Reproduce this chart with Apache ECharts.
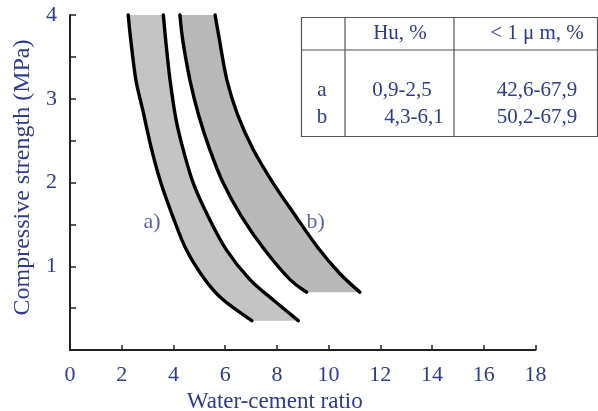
<!DOCTYPE html>
<html>
<head>
<meta charset="utf-8">
<script src="https://cdn.jsdelivr.net/npm/echarts@6/dist/echarts.min.js"></script>
<style>
html,body{margin:0;padding:0;background:#fff;}
#chart{width:598px;height:411px;}
</style>
</head>
<body>
<div id="chart"></div>
<script>
// ---- data ----
const xTicks = [0, 2, 4, 6, 8, 10, 12, 14, 16, 18];
const yTickLabels = ['1', '2', '3', '4'];
// band a) : left and right boundary curves, [water-cement ratio, strength MPa], top to bottom
const bandALeft  = [[2.25,4.0],[2.35,3.70],[2.55,3.22],[2.81,2.87],[3.16,2.39],[3.52,1.99],[3.98,1.59],[4.51,1.19],[5.22,0.84],[5.92,0.60],[7.03,0.35]];
const bandARight = [[3.61,4.0],[3.70,3.70],[3.87,3.22],[4.10,2.75],[4.38,2.39],[4.77,1.99],[5.35,1.59],[6.06,1.19],[6.96,0.84],[7.85,0.60],[8.83,0.35]];
// band b)
const bandBLeft  = [[4.25,4.0],[4.36,3.70],[4.64,3.22],[4.97,2.81],[5.41,2.39],[5.93,1.99],[6.64,1.59],[7.54,1.19],[8.51,0.84],[9.15,0.69]];
const bandBRight = [[5.61,4.0],[5.78,3.70],[6.07,3.22],[6.48,2.81],[7.09,2.39],[7.86,1.99],[8.70,1.61],[9.59,1.22],[10.44,0.91],[11.21,0.69]];
// band labels
const bandLabels = [['a)', 3.17, 1.53], ['b)', 9.5, 1.53]];
// inset table
const tableHeader = ['', 'Hu, %', '< 1 \u03bc m, %'];
const tableRows = [['a', '0,9-2,5', '42,6-67,9'], ['b', '4,3-6,1', '50,2-67,9']];

const NAVY = '#2e3b8e';
const FONT = '"Liberation Serif", "Times New Roman", serif';

function toPx(api, pts){ return pts.map(p => api.coord(p)); }
function smoothSeg(pts, withMove){
  let d = withMove ? ('M' + pts[0][0] + ' ' + pts[0][1]) : '';
  const n = pts.length;
  for (let i = 0; i < n - 1; i++) {
    const p0 = pts[Math.max(i - 1, 0)], p1 = pts[i], p2 = pts[i + 1], p3 = pts[Math.min(i + 2, n - 1)];
    const c1 = [p1[0] + (p2[0] - p0[0]) / 6, p1[1] + (p2[1] - p0[1]) / 6];
    const c2 = [p2[0] - (p3[0] - p1[0]) / 6, p2[1] - (p3[1] - p1[1]) / 6];
    d += ' C' + c1[0] + ' ' + c1[1] + ' ' + c2[0] + ' ' + c2[1] + ' ' + p2[0] + ' ' + p2[1];
  }
  return d;
}
function bandSeries(left, right, fill){
  return {
    type: 'custom',
    coordinateSystem: 'cartesian2d',
    silent: true,
    clip: false,
    data: [[left[0][0], left[0][1]]],
    renderItem: function(params, api){
      const L = toPx(api, left), R = toPx(api, right);
      const Rrev = R.slice().reverse();
      const fillPath = smoothSeg(L, true) + ' L' + Rrev[0][0] + ' ' + Rrev[0][1] + smoothSeg(Rrev, false) + ' Z';
      return {
        type: 'group',
        children: [
          { type: 'path', shape: { pathData: fillPath }, style: { fill: fill, stroke: null } },
          { type: 'path', shape: { pathData: smoothSeg(L, true) }, style: { fill: null, stroke: '#000', lineWidth: 3.4, lineCap: 'round' } },
          { type: 'path', shape: { pathData: smoothSeg(R, true) }, style: { fill: null, stroke: '#000', lineWidth: 3.4, lineCap: 'round' } }
        ]
      };
    }
  };
}

// table graphic
const tX0 = 301.5, tX1 = 597.5, tY0 = 17.5, tY1 = 136.5, tHy = 50, tC1 = 345, tC2 = 454;
const colCenters = [322, 400, 537];
const rowY = [90, 117];
const tableGraphic = [
  { type: 'rect', shape: { x: tX0, y: tY0, width: tX1 - tX0, height: tY1 - tY0 }, style: { fill: '#fff', stroke: '#555', lineWidth: 1.2 } },
  { type: 'line', shape: { x1: tX0, y1: tHy, x2: tX1, y2: tHy }, style: { stroke: '#555', lineWidth: 1.2 } },
  { type: 'line', shape: { x1: tC1, y1: tY0, x2: tC1, y2: tY1 }, style: { stroke: '#555', lineWidth: 1.2 } },
  { type: 'line', shape: { x1: tC2, y1: tY0, x2: tC2, y2: tY1 }, style: { stroke: '#555', lineWidth: 1.2 } }
];
tableHeader.forEach((t, i) => {
  if (t) tableGraphic.push({ type: 'text', x: colCenters[i], y: 33, style: { text: t, fill: NAVY, font: '21px ' + FONT, textAlign: 'center', textVerticalAlign: 'middle' } });
});
const rowOffsets = [[0, 2, 0], [0, 14, 0]];
tableRows.forEach((row, r) => {
  row.forEach((t, i) => {
    tableGraphic.push({ type: 'text', x: colCenters[i] + rowOffsets[r][i], y: rowY[r], style: { text: t, fill: NAVY, font: '21px ' + FONT, textAlign: 'center', textVerticalAlign: 'middle' } });
  });
});

const chart = echarts.init(document.getElementById('chart'), null, { renderer: 'canvas' });
chart.setOption({
  animation: false,
  backgroundColor: '#fff',
  grid: { left: 70, right: 62.5, top: 15, bottom: 61, containLabel: false, outerBoundsMode: 'none' },
  xAxis: {
    type: 'value', min: xTicks[0], max: xTicks[xTicks.length - 1], interval: 2,
    name: 'Water-cement ratio', nameLocation: 'middle', nameGap: 40,
    nameTextStyle: { color: NAVY, fontFamily: FONT, fontSize: 23, padding: [0, 56, 0, 0] },
    axisLine: { show: true, lineStyle: { color: '#222', width: 2 } },
    axisTick: { show: true, inside: true, length: 5, lineStyle: { color: '#222', width: 1.5 } },
    axisLabel: { color: NAVY, fontFamily: FONT, fontSize: 22, margin: 14 },
    splitLine: { show: false }
  },
  yAxis: {
    type: 'value', min: 0, max: 4, interval: 0.5,
    name: 'Compressive strength (MPa)', nameLocation: 'middle', nameGap: 35,
    nameTextStyle: { color: NAVY, fontFamily: FONT, fontSize: 24, padding: [0, 0, 0, 10] },
    axisLine: { show: true, lineStyle: { color: '#222', width: 2 } },
    axisTick: { show: true, inside: true, length: 6, lineStyle: { color: '#222', width: 1.5 } },
    axisLabel: {
      color: NAVY, fontFamily: FONT, fontSize: 22, margin: 13,
      formatter: function(v){ const s = String(v); return yTickLabels.indexOf(s) >= 0 ? s : ''; }
    },
    splitLine: { show: false }
  },
  graphic: tableGraphic,
  series: [
    bandSeries(bandALeft, bandARight, '#c4c4c4'),
    bandSeries(bandBLeft, bandBRight, '#b9b9b9'),
    {
      type: 'scatter', silent: true, symbolSize: 0,
      data: bandLabels.map(b => ({ value: [b[1], b[2]], name: b[0] })),
      label: { show: true, position: 'inside', formatter: p => p.name, color: NAVY, fontFamily: FONT, fontSize: 22 }
    }
  ]
});
</script>
</body>
</html>
